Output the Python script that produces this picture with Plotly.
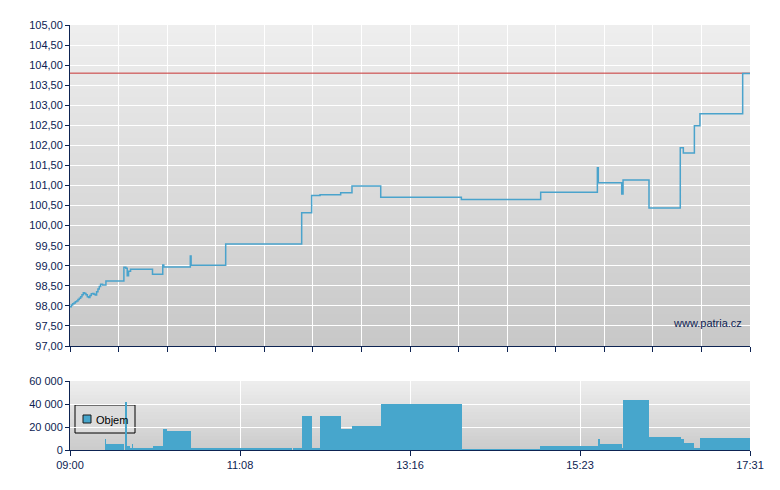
import plotly.graph_objects as go

# ---- data (minutes after 09:00 open) ----
price_minutes = [0, 1, 2, 3, 4, 5, 6, 7, 8, 9, 10, 11, 12, 13, 14, 15, 16, 17, 18, 19,
                 20, 21, 22, 23, 24.5, 27, 40.5, 42, 43, 44, 45.5, 62, 69.7, 70.5,
                 90.4, 91, 117, 174.1, 181.6, 187.9, 203.4, 211.9, 233.5, 294.1,
                 353.7, 396.3, 397, 414.6, 415.6, 435.1, 458.6, 460.9, 469.2, 473.4,
                 505.5, 511]
price_values = [97.98, 98.02, 98.05, 98.07, 98.10, 98.12, 98.16, 98.19, 98.23, 98.28,
                98.33, 98.31, 98.28, 98.23, 98.21, 98.26, 98.30, 98.31, 98.29, 98.27,
                98.35, 98.42, 98.48, 98.54, 98.52, 98.62, 98.96, 98.94, 98.75, 98.86,
                98.91, 98.79, 99.02, 98.97, 99.24, 99.01, 99.54, 100.32, 100.75,
                100.77, 100.82, 100.99, 100.71, 100.65, 100.83, 101.44, 101.07,
                100.79, 101.14, 100.44, 101.94, 101.81, 102.49, 102.79, 103.79, 103.79]
prev_close = 103.80

vol_start = [26.3, 27.0, 41.6, 42.8, 45.1, 46.6, 47.3, 62.4, 69.9, 72.9, 90.7, 117.0,
             167.6, 174.3, 181.6, 187.9, 203.7, 211.7, 233.7, 265.5, 294.6, 328.6,
             353.2, 373.7, 397.0, 397.6, 414.8, 415.6, 435.1, 459.2, 461.4, 469.0, 473.4]
vol_end = [27.0, 40.4, 42.8, 45.1, 46.6, 47.3, 62.4, 69.9, 72.9, 90.7, 117.0, 166.8,
           174.3, 181.6, 187.9, 203.7, 211.7, 233.7, 265.0, 294.6, 328.6, 353.2,
           373.7, 397.0, 397.6, 414.8, 415.6, 435.1, 459.2, 461.4, 469.0, 473.4, 511.0]
vol_values = [9400, 5400, 42000, 3400, 1700, 5400, 1700, 3400, 18600, 16300, 1700, 1700,
              1700, 30000, 900, 30000, 18000, 20600, 40300, 40300, 600, 600,
              3400, 3400, 9400, 5100, 1500, 43800, 11200, 10000, 6000, 1700, 10300]

session_end = 511
session_ticks = [0, 127.75, 255.5, 383.25, 511]
session_labels = ["09:00", "11:08", "13:16", "15:23", "17:31"]
vol_ticks = [0, 20000, 40000, 60000]

NAVY = "#0d2352"
LINE_BLUE = "#4aa3cc"
BAR_BLUE = "#47a6cc"
FONT = "Arial, Liberation Sans, sans-serif"

fig = go.Figure()

fig.add_trace(go.Scatter(x=[0, session_end], y=[prev_close, prev_close], mode="lines",
                         line=dict(color="#c83232", width=1), xaxis="x", yaxis="y",
                         showlegend=False, hoverinfo="skip"))
fig.add_trace(go.Scatter(x=price_minutes, y=price_values, mode="lines",
                         line=dict(color=LINE_BLUE, width=1.5, shape="hv"),
                         xaxis="x", yaxis="y", showlegend=False))
fig.add_trace(go.Bar(x=vol_start, y=vol_values,
                     width=[e - s for s, e in zip(vol_start, vol_end)], offset=0,
                     marker=dict(color=BAR_BLUE, line=dict(width=0)),
                     xaxis="x2", yaxis="y2", name="Objem", showlegend=False))

# gradient plot backgrounds: stacked rects all anchored at the bottom (no seams)
shapes = []
for ax, (g_bot, g_top), N in (("", (200, 238), 40), ("2", (203, 238), 20)):
    for i in range(N):
        top = 1 - i / N
        f = top - 0.5 / N
        g = int(round(g_bot + (g_top - g_bot) * f))
        shapes.append(dict(type="rect", xref=f"x{ax} domain", yref=f"y{ax} domain",
                           x0=0, x1=1, y0=0, y1=top,
                           fillcolor=f"rgb({g},{g},{g})", line=dict(width=0),
                           layer="below"))

# legend box (paper coordinates; plot area spans page px 70..750 x 25..450)
def px(x):
    return (x - 70) / 680

def py(y):
    return (450 - y) / 425

shapes.append(dict(type="rect", xref="paper", yref="paper",
                   x0=px(75), x1=px(135), y0=py(433), y1=py(405),
                   fillcolor="rgb(220,220,220)", line=dict(color="black", width=1),
                   layer="between"))
shapes.append(dict(type="rect", xref="paper", yref="paper",
                   x0=px(83), x1=px(91), y0=py(423), y1=py(415),
                   fillcolor=BAR_BLUE, line=dict(color="#1a1a1a", width=1),
                   layer="between"))

annotations = [
    dict(text="Objem", xref="paper", yref="paper", x=px(94), y=py(420),
         xanchor="left", yanchor="middle", showarrow=False,
         font=dict(family=FONT, size=11, color="black")),
    dict(text="www.patria.cz", xref="paper", yref="paper", x=px(744), y=py(323),
         xanchor="right", yanchor="middle", showarrow=False,
         font=dict(family=FONT, size=11, color=NAVY)),
]

axis_common = dict(showline=True, linecolor=NAVY, linewidth=1, ticks="outside",
                   tickcolor=NAVY, tickwidth=1, showgrid=True, gridcolor="white",
                   gridwidth=1, zeroline=False,
                   tickfont=dict(family=FONT, size=11, color=NAVY))

# page body has an 8px margin, so the figure is 8px smaller and margins shifted
fig.update_layout(
    width=772, height=482, autosize=False,
    margin=dict(l=62, r=30, t=17, b=40, pad=0),
    paper_bgcolor="white", plot_bgcolor="rgba(0,0,0,0)",
    separators=", ",
    font=dict(family=FONT, size=11, color=NAVY),
    showlegend=False,
    xaxis=dict(domain=[0, 1], anchor="y", range=[0, session_end],
               tickvals=[session_end * i / 14 for i in range(15)],
               showticklabels=False, ticklen=5, **axis_common),
    yaxis=dict(domain=[(450 - 346) / 425, 1], anchor="x", range=[97, 105],
               tick0=97, dtick=0.5, tickformat=".2f", ticklen=4, **axis_common),
    xaxis2=dict(domain=[0, 1], anchor="y2", range=[0, session_end],
                tickvals=session_ticks, ticktext=session_labels, ticklen=5,
                **axis_common),
    yaxis2=dict(domain=[0, 69 / 425], anchor="x2", range=[0, 60000],
                tickvals=vol_ticks, tickformat=",d", ticklen=4, **axis_common),
    shapes=shapes,
    annotations=annotations,
    bargap=0,
)

fig.write_html("out.html")
